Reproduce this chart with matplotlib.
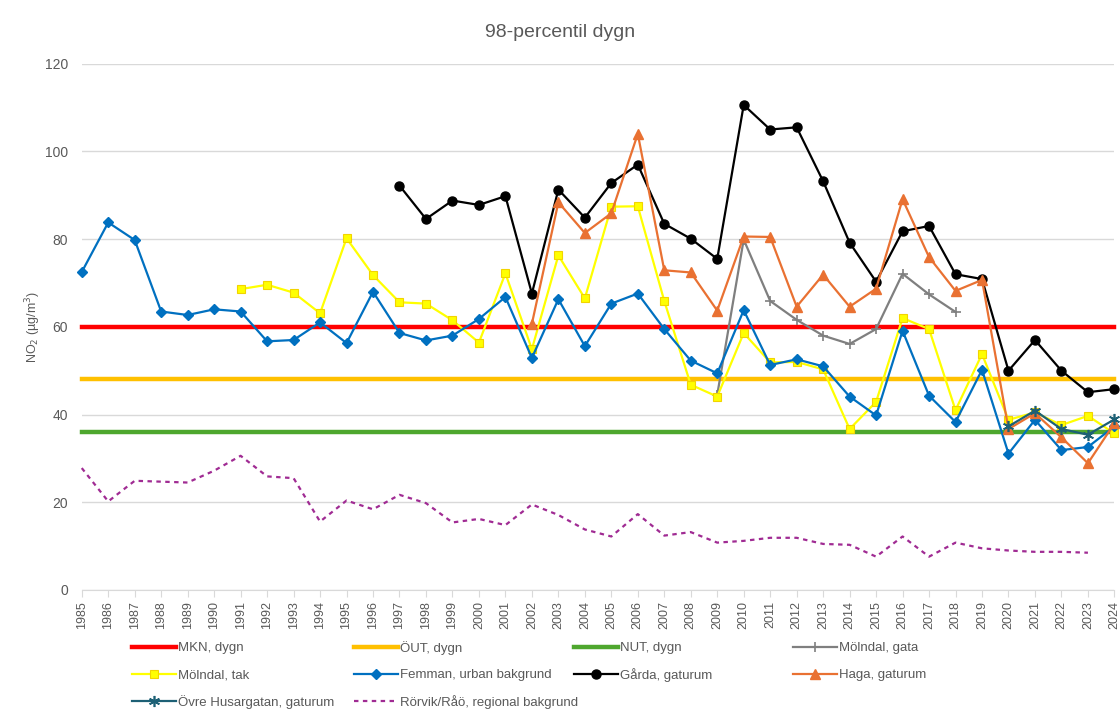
import numpy as np
import matplotlib
matplotlib.use("Agg")
import matplotlib.pyplot as plt

plt.rcParams['font.family'] = ['Liberation Sans', 'DejaVu Sans']

nan = np.nan
years = list(range(1985, 2025))

# gränsvärden (konstanta linjer)
mkn = [60] * len(years)
out_ = [48] * len(years)
nut = [36] * len(years)

molndal_gata = [nan] * 24 + [44.5, 79.9, 65.9, 61.6, 58.0, 56.1, 59.5, 72.1, 67.4, 63.4] + [nan] * 6
molndal_tak = [nan] * 6 + [68.6, 69.6, 67.8, 63.1, 80.2, 71.8, 65.6, 65.3, 61.5, 56.4,
                           72.2, 54.9, 76.3, 66.5, 87.4, 87.5, 65.9, 46.8, 44.1, 58.6,
                           51.9, 52.0, 50.3, 36.7, 42.9, 62.0, 59.5, 41.0, 53.8, 38.8,
                           40.5, 37.6, 39.7, 35.7]
femman = [72.5, 83.8, 79.8, 63.5, 62.7, 64.0, 63.5, 56.7, 57.0, 61.0,
          56.3, 68.0, 58.6, 56.9, 58.0, 61.8, 66.8, 52.9, 66.3, 55.6,
          65.3, 67.6, 59.5, 52.3, 49.4, 63.8, 51.3, 52.6, 51.0, 44.1,
          39.8, 59.1, 44.3, 38.3, 50.2, 31.1, 38.8, 31.9, 32.6, 37.3]
garda = [nan] * 12 + [92.2, 84.6, 88.8, 87.8,
                      89.8, 67.6, 91.3, 84.9, 92.8, 97.0, 83.5, 80.1, 75.5, 110.6,
                      105.0, 105.5, 93.2, 79.2, 70.3, 81.8, 83.0, 72.0, 70.9, 50.0,
                      57.0, 50.0, 45.1, 45.8]
haga = [nan] * 17 + [60.7, 88.4, 81.4, 85.9, 104.0, 72.9, 72.4, 63.7, 80.6,
                     80.5, 64.6, 71.9, 64.6, 68.7, 89.1, 75.9, 68.2, 70.7, 36.7,
                     40.3, 34.8, 28.9, 38.0]
ovre = [nan] * 35 + [37.3, 40.9, 36.7, 35.4, 38.9]
rorvik = [27.8, 20.2, 24.9, 24.7, 24.5, 27.2, 30.6, 25.9, 25.5, 15.6,
          20.4, 18.4, 21.7, 19.8, 15.4, 16.2, 14.8, 19.5, 17.1, 13.8,
          12.2, 17.3, 12.4, 13.2, 10.8, 11.2, 11.9, 11.9, 10.5, 10.3,
          7.6, 12.2, 7.6, 10.8, 9.5, 9.0, 8.7, 8.7, 8.5, nan]

fig = plt.figure(figsize=(11.2, 7.16), dpi=100)
ax = fig.add_axes([0.073, 0.176, 0.922, 0.735])

h_mkn, = ax.plot(years, mkn, color='#FF0000', lw=3.2, label='MKN, dygn')
h_out, = ax.plot(years, out_, color='#FFC000', lw=3.2, label='ÖUT, dygn')
h_nut, = ax.plot(years, nut, color='#4EA72E', lw=3.2, label='NUT, dygn')

h_rorvik, = ax.plot(years, rorvik, color='#A02B93', lw=1.6, ls=(0, (2, 2)),
                    label='Rörvik/Råö, regional bakgrund')
h_gata, = ax.plot(years, molndal_gata, color='#7F7F7F', lw=1.6, marker='+', ms=7,
                  mew=1.2, label='Mölndal, gata')
h_tak, = ax.plot(years, molndal_tak, color='#FFFF00', lw=1.6, marker='s', ms=6,
                 mfc='#FFFF00', mec='#F2D400', mew=0.8, label='Mölndal, tak')
h_femman, = ax.plot(years, femman, color='#0070C0', lw=1.6, marker='D', ms=5,
                    label='Femman, urban bakgrund')
h_garda, = ax.plot(years, garda, color='#000000', lw=1.6, marker='o', ms=6.5,
                   label='Gårda, gaturum')
h_haga, = ax.plot(years, haga, color='#E97132', lw=1.6, marker='^', ms=6.5,
                  label='Haga, gaturum')
h_ovre, = ax.plot(years, ovre, color='#1D6075', lw=1.6, marker=(6, 2, 0), ms=8,
                  mew=1.2, label='Övre Husargatan, gaturum')

for ln in ax.get_lines():
    ln.set_clip_on(False)

ax.set_xlim(1985, 2024)
ax.set_ylim(0, 120)
ax.set_yticks(range(0, 121, 20))
ax.set_xticks(years)
ax.set_xticklabels([str(y) for y in years], rotation=90, fontsize=9, color='#595959')
ax.tick_params(axis='y', length=0, labelsize=10, labelcolor='#595959', pad=10)
ax.tick_params(axis='x', length=5, color='#D9D9D9', pad=3)
ax.grid(axis='y', color='#D9D9D9', lw=1)
ax.set_axisbelow(True)
for s in ['top', 'right', 'left']:
    ax.spines[s].set_visible(False)
ax.spines['bottom'].set_color('#D9D9D9')

ax.set_ylabel('NO$_2$ (µg/m$^3$)', fontsize=9, color='#595959', labelpad=1)
fig.text(0.5, 0.955, '98-percentil dygn', ha='center', va='center', fontsize=14,
         color='#595959')

# legenden: en post per plats, rad för rad som i Excel
rows = [[h_mkn, h_out, h_nut, h_gata],
        [h_tak, h_femman, h_garda, h_haga],
        [h_ovre, h_rorvik]]
col_x = [132, 354, 574, 793]
row_y = [648, 675, 702]
for hs, y in zip(rows, row_y):
    for h, x in zip(hs, col_x):
        leg = fig.legend(handles=[h], loc='center left',
                         bbox_to_anchor=(x / 1120, 1 - y / 716),
                         frameon=False, fontsize=9.5, handlelength=3.3,
                         handletextpad=0.2, borderpad=0, borderaxespad=0)
        leg.get_texts()[0].set_color('#595959')

fig.savefig('out.png', dpi=100)
